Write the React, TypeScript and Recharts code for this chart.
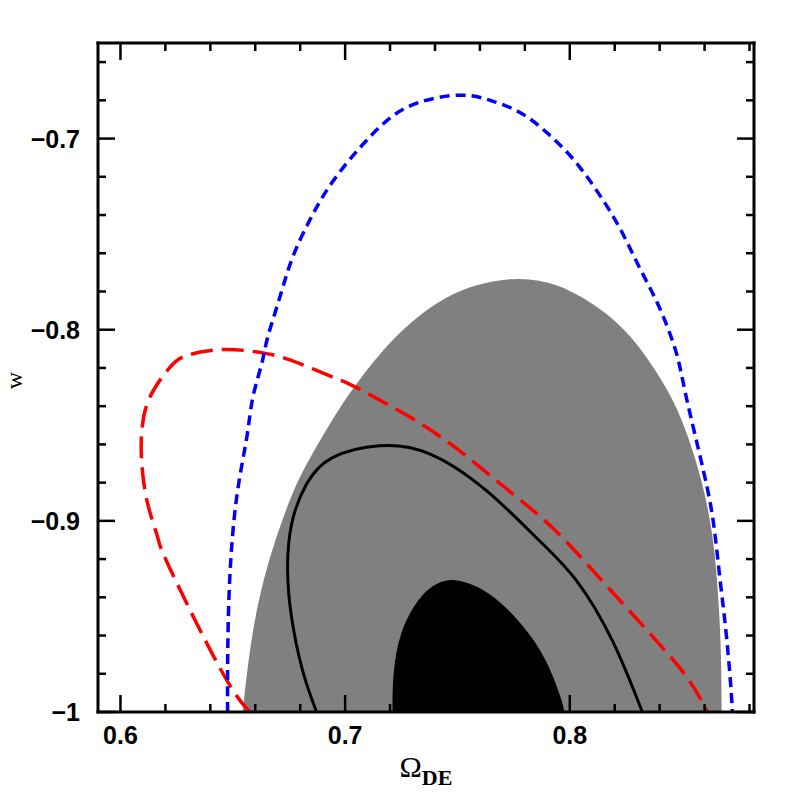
import React from 'react';
import { ComposedChart, XAxis, YAxis, Area, Line } from 'recharts';

// ---- axis ticks ----
const xMajorTicks = [0.6, 0.7, 0.8];
const xTickLabels = ['0.6', '0.7', '0.8'];
const xMinorTicks = [0.62, 0.64, 0.66, 0.68, 0.72, 0.74, 0.76, 0.78, 0.82, 0.84, 0.86, 0.88];
const yMajorTicks = [-1, -0.9, -0.8, -0.7];
const yTickLabels = ['\u22121', '\u22120.9', '\u22120.8', '\u22120.7'];
const yMinorTicks = [-0.98, -0.96, -0.94, -0.92, -0.88, -0.86, -0.84, -0.82, -0.78, -0.76, -0.74, -0.72, -0.68, -0.66];
const xDomain = [0.59, 0.882];
const yDomain = [-1, -0.65];
const xTitleMain = '\u03A9';
const xTitleSub = 'DE';
const yTitle = 'w';

// ---- outer (shaded gray) region: upper boundary, lower bound w = -1 ----
const grayUpper = [
  { x: 0.6544, y: -1.0 },
  { x: 0.6584, y: -0.9576 },
  { x: 0.6651, y: -0.9225 },
  { x: 0.6766, y: -0.8842 },
  { x: 0.6829, y: -0.8701 },
  { x: 0.6976, y: -0.8397 },
  { x: 0.7153, y: -0.8119 },
  { x: 0.7309, y: -0.7941 },
  { x: 0.7443, y: -0.7831 },
  { x: 0.7576, y: -0.7763 },
  { x: 0.7767, y: -0.7721 },
  { x: 0.7954, y: -0.7758 },
  { x: 0.8132, y: -0.7884 },
  { x: 0.8252, y: -0.8004 },
  { x: 0.8355, y: -0.8161 },
  { x: 0.8457, y: -0.8355 },
  { x: 0.8519, y: -0.8528 },
  { x: 0.859, y: -0.879 },
  { x: 0.8635, y: -0.9052 },
  { x: 0.8657, y: -0.9313 },
  { x: 0.8674, y: -0.965 },
  { x: 0.8676, y: -1.0 },
];

// ---- inner (black) region ----
const blackUpper = [
  { x: 0.7211, y: -1.0 },
  { x: 0.7211, y: -0.9801 },
  { x: 0.7242, y: -0.9576 },
  { x: 0.7331, y: -0.9392 },
  { x: 0.7411, y: -0.9319 },
  { x: 0.7496, y: -0.9298 },
  { x: 0.7643, y: -0.9366 },
  { x: 0.779, y: -0.9539 },
  { x: 0.7896, y: -0.9717 },
  { x: 0.7967, y: -0.9942 },
  { x: 0.7976, y: -1.0 },
];

// ---- contour lines ----
const blackContour = [
  { x: 0.6873, y: -1.0 },
  { x: 0.6811, y: -0.9785 },
  { x: 0.6762, y: -0.9507 },
  { x: 0.6744, y: -0.9261 },
  { x: 0.6762, y: -0.9015 },
  { x: 0.6829, y: -0.8806 },
  { x: 0.6944, y: -0.8669 },
  { x: 0.7153, y: -0.8607 },
  { x: 0.7376, y: -0.8649 },
  { x: 0.7629, y: -0.8842 },
  { x: 0.7865, y: -0.9104 },
  { x: 0.803, y: -0.9313 },
  { x: 0.819, y: -0.9628 },
  { x: 0.8323, y: -1.0 },
];

const redContour = [
  { x: 0.6575, y: -1.0 },
  { x: 0.6442, y: -0.9769 },
  { x: 0.6219, y: -0.9246 },
  { x: 0.6166, y: -0.9088 },
  { x: 0.6121, y: -0.891 },
  { x: 0.6095, y: -0.8701 },
  { x: 0.6095, y: -0.8528 },
  { x: 0.613, y: -0.8355 },
  { x: 0.6219, y: -0.8198 },
  { x: 0.6295, y: -0.8135 },
  { x: 0.6455, y: -0.8104 },
  { x: 0.6651, y: -0.8125 },
  { x: 0.6798, y: -0.8177 },
  { x: 0.6962, y: -0.8256 },
  { x: 0.7051, y: -0.8303 },
  { x: 0.73, y: -0.8465 },
  { x: 0.7509, y: -0.8633 },
  { x: 0.7718, y: -0.8832 },
  { x: 0.7923, y: -0.9036 },
  { x: 0.8132, y: -0.9298 },
  { x: 0.8386, y: -0.9628 },
  { x: 0.8533, y: -0.9838 },
  { x: 0.8613, y: -1.0 },
];

const blueContour = [
  { x: 0.6477, y: -1.0 },
  { x: 0.6477, y: -0.9748 },
  { x: 0.6486, y: -0.9313 },
  { x: 0.6517, y: -0.8879 },
  { x: 0.6562, y: -0.8565 },
  { x: 0.6589, y: -0.8355 },
  { x: 0.6629, y: -0.8177 },
  { x: 0.6655, y: -0.8041 },
  { x: 0.6709, y: -0.7831 },
  { x: 0.6766, y: -0.7622 },
  { x: 0.6842, y: -0.7428 },
  { x: 0.6918, y: -0.7271 },
  { x: 0.7007, y: -0.7129 },
  { x: 0.7096, y: -0.7009 },
  { x: 0.7198, y: -0.6894 },
  { x: 0.7331, y: -0.681 },
  { x: 0.7509, y: -0.6773 },
  { x: 0.7643, y: -0.6799 },
  { x: 0.7776, y: -0.6862 },
  { x: 0.7896, y: -0.6967 },
  { x: 0.8012, y: -0.7103 },
  { x: 0.8119, y: -0.7271 },
  { x: 0.8221, y: -0.7465 },
  { x: 0.831, y: -0.7674 },
  { x: 0.8399, y: -0.7884 },
  { x: 0.8475, y: -0.8125 },
  { x: 0.8519, y: -0.8355 },
  { x: 0.8595, y: -0.8738 },
  { x: 0.864, y: -0.9015 },
  { x: 0.8668, y: -0.9298 },
  { x: 0.8695, y: -0.9576 },
  { x: 0.8715, y: -0.9838 },
  { x: 0.8724, y: -1.0 },
];

// range data for the filled regions (from the plot floor up to the boundary)
const toRange = (pts: { x: number; y: number }[]) =>
  pts.map((p) => ({ x: p.x, y: [yDomain[0], p.y] }));
const grayArea = toRange(grayUpper);
const blackArea = toRange(blackUpper);

const xTicks = [...xMajorTicks, ...xMinorTicks].sort((a, b) => a - b);
const yTicks = [...yMajorTicks, ...yMinorTicks].sort((a, b) => a - b);

const findLabel = (v: number, majors: number[], labels: string[]) => {
  const i = majors.findIndex((m) => Math.abs(m - v) < 1e-6);
  return i >= 0 ? labels[i] : null;
};

const tickFont = {
  fontFamily: 'Liberation Sans, Arial, sans-serif',
  fontWeight: 'bold' as const,
  fontSize: 25,
  fill: '#000',
};

const makeTick = (side: 'bottom' | 'top' | 'left' | 'right') => (props: any) => {
  const { x, y, payload } = props;
  const v = payload.value;
  const horizontal = side === 'bottom' || side === 'top';
  const label = horizontal
    ? findLabel(v, xMajorTicks, xTickLabels)
    : findLabel(v, yMajorTicks, yTickLabels);
  const len = label !== null ? 17 : 8;
  let x2 = x;
  let y2 = y;
  if (side === 'bottom') y2 = y - len;
  if (side === 'top') y2 = y + len;
  if (side === 'left') x2 = x + len;
  if (side === 'right') x2 = x - len;
  return (
    <g>
      <line x1={x} y1={y} x2={x2} y2={y2} stroke="#000" strokeWidth={2.5} />
      {label !== null && side === 'bottom' && (
        <text x={x} y={y + 32} textAnchor="middle" {...tickFont}>
          {label}
        </text>
      )}
      {label !== null && side === 'left' && (
        <text x={x - 18} y={y + 9} textAnchor="end" {...tickFont}>
          {label}
        </text>
      )}
    </g>
  );
};

const XTitle = (props: any) => {
  const vb = props.viewBox || { x: 98, y: 712, width: 656, height: 1 };
  const cx = vb.x + vb.width / 2;
  return (
    <text x={cx} y={vb.y + 65} textAnchor="middle" fontFamily="Liberation Serif, Times New Roman, serif" fill="#000">
      <tspan fontSize={30}>{xTitleMain}</tspan>
      <tspan fontSize={22} fontWeight="bold" dy={8}>
        {xTitleSub}
      </tspan>
    </text>
  );
};

const YTitle = (props: any) => {
  const vb = props.viewBox || { x: 97, y: 43, width: 1, height: 669 };
  const tx = 22;
  const ty = vb.y + vb.height / 2 + 3;
  return (
    <text
      x={tx}
      y={ty}
      textAnchor="middle"
      transform={`rotate(-90 ${tx} ${ty})`}
      fontFamily="Liberation Serif, Times New Roman, serif"
      fontSize={24}
      fill="#000"
    >
      {yTitle}
    </text>
  );
};

const frameLine = { stroke: '#000', strokeWidth: 3, strokeLinecap: 'square' as const };

export default function App() {
  return (
    <div style={{ position: 'absolute', left: 0, top: 0, width: 797, height: 797, background: '#fff' }}>
      <ComposedChart width={797} height={797} margin={{ top: 42, right: 42, bottom: 84, left: 97 }}>
        <Area
          data={grayArea}
          xAxisId="b"
          yAxisId="l"
          dataKey="y"
          type="basis"
          fill="#808080"
          fillOpacity={1}
          stroke="none"
          dot={false}
          activeDot={false}
          isAnimationActive={false}
        />
        <Area
          data={blackArea}
          xAxisId="b"
          yAxisId="l"
          dataKey="y"
          type="basis"
          fill="#000000"
          fillOpacity={1}
          stroke="none"
          dot={false}
          activeDot={false}
          isAnimationActive={false}
        />
        <Line
          data={blackContour}
          xAxisId="b"
          yAxisId="l"
          dataKey="y"
          type="natural"
          stroke="#000"
          strokeWidth={3}
          dot={false}
          activeDot={false}
          isAnimationActive={false}
        />
        <Line
          data={redContour}
          xAxisId="b"
          yAxisId="l"
          dataKey="y"
          type="natural"
          stroke="#ff0000"
          strokeWidth={3.5}
          strokeDasharray="22 9"
          dot={false}
          activeDot={false}
          isAnimationActive={false}
        />
        <Line
          data={blueContour}
          xAxisId="b"
          yAxisId="l"
          dataKey="y"
          type="natural"
          stroke="#0000ff"
          strokeWidth={3.5}
          strokeDasharray="10 6"
          dot={false}
          activeDot={false}
          isAnimationActive={false}
        />
        <XAxis
          xAxisId="b"
          orientation="bottom"
          type="number"
          dataKey="x"
          domain={xDomain}
          allowDataOverflow
          ticks={xTicks}
          interval={0}
          tickSize={0}
          tickMargin={0}
          tickLine={false}
          axisLine={frameLine}
          tick={makeTick('bottom')}
          height={1}
          label={{ content: XTitle }}
        />
        <XAxis
          xAxisId="t"
          orientation="top"
          type="number"
          dataKey="x"
          domain={xDomain}
          allowDataOverflow
          ticks={xTicks}
          interval={0}
          tickSize={0}
          tickMargin={0}
          tickLine={false}
          axisLine={frameLine}
          tick={makeTick('top')}
          height={1}
        />
        <YAxis
          yAxisId="l"
          orientation="left"
          type="number"
          dataKey="y"
          domain={yDomain}
          allowDataOverflow
          ticks={yTicks}
          interval={0}
          tickSize={0}
          tickMargin={0}
          tickLine={false}
          axisLine={frameLine}
          tick={makeTick('left')}
          width={1}
          label={{ content: YTitle }}
        />
        <YAxis
          yAxisId="r"
          orientation="right"
          type="number"
          dataKey="y"
          domain={yDomain}
          allowDataOverflow
          ticks={yTicks}
          interval={0}
          tickSize={0}
          tickMargin={0}
          tickLine={false}
          axisLine={frameLine}
          tick={makeTick('right')}
          width={1}
        />
      </ComposedChart>
    </div>
  );
}
